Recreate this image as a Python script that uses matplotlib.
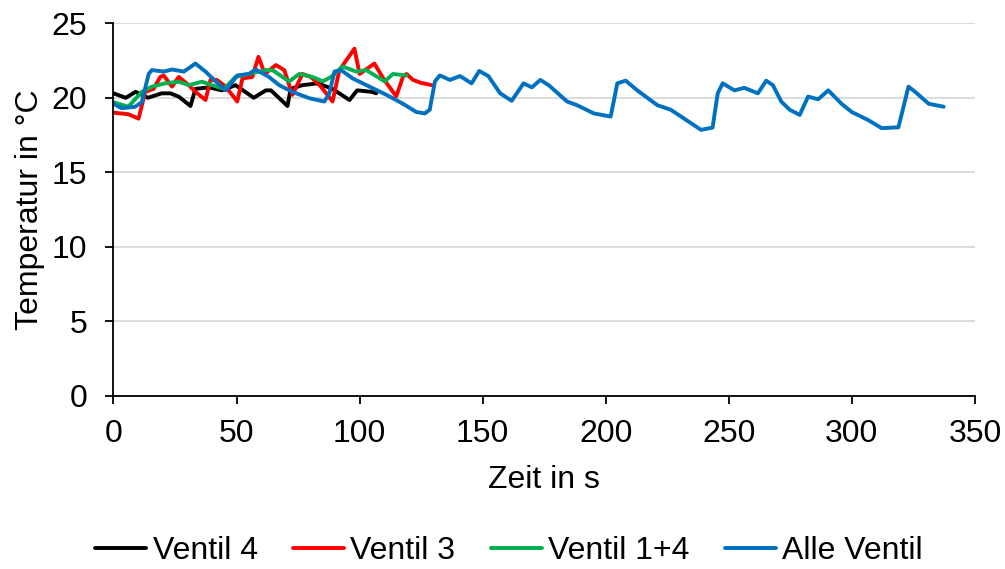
import matplotlib
matplotlib.use("Agg")
import matplotlib.pyplot as plt

plt.rcParams["font.family"] = ["Liberation Sans", "DejaVu Sans"]

# Temperature traces (time in s, temperature in °C)
t_v4 = [0, 5, 9, 14, 19.6, 23.1, 26.5, 31.3, 33.3, 38.8, 44, 49.6, 57, 61.9,
        64, 70.7, 72, 76.8, 83, 89, 95.9, 99, 105, 106.8]
T_v4 = [20.3, 20.0, 20.4, 20.0, 20.3, 20.3, 20.08, 19.45, 20.6, 20.7, 20.5, 20.85,
        20.0, 20.5, 20.5, 19.45, 20.6, 20.85, 20.97, 20.6, 19.85, 20.5, 20.4, 20.3]

t_v3 = [0, 6, 10.2, 12.9, 16.3, 19, 20.4, 23.8, 26.5, 30.6, 33.3, 37.4, 39.4, 42,
        45.6, 50.3, 52.4, 56.4, 58.9, 61.5, 66, 69.4, 72.7, 76.8, 80.2, 84.3, 89,
        91.8, 97.9, 100, 106, 110, 114.9, 117.6, 119, 121.7, 125, 129.3]
T_v3 = [19.0, 18.9, 18.6, 20.4, 20.6, 21.4, 21.5, 20.75, 21.4, 20.85, 20.4, 19.85,
        21.2, 21.2, 20.75, 19.75, 21.3, 21.4, 22.75, 21.6, 22.2, 21.86, 20.2, 21.6,
        21.4, 20.75, 19.75, 21.86, 23.3, 21.6, 22.3, 21.2, 20.1, 21.4, 21.6, 21.2,
        21.0, 20.85]

t_v14 = [0, 6, 11.5, 15.6, 21, 26.5, 30.6, 36, 40, 44.9, 49.6, 55, 61.9, 64.6,
         68.7, 71.4, 75.5, 80.9, 85, 88.4, 93.1, 98.6, 102.7, 110.2, 113.5, 119]
T_v14 = [19.7, 19.4, 20.4, 20.75, 20.97, 21.08, 20.85, 21.08, 20.85, 20.6, 21.4,
         21.6, 21.86, 21.86, 21.4, 21.1, 21.6, 21.4, 21.1, 21.4, 22.1, 21.76, 21.86,
         21.1, 21.6, 21.5]

t_all = [0, 3.3, 8.8, 11.5, 14.3, 15.6, 20.4, 23.8, 28.6, 33.3, 37.4, 41.5, 45.6,
         50.3, 55, 57.8, 63.2, 67.3, 72.7, 79.6, 85.7, 87.7, 89.8, 92.5, 97.2, 104,
         110.9, 117.6, 123, 126.5, 128.5, 130.6, 132.6, 136.7, 140.8, 145.5, 148.6,
         152.3, 157.1, 161.8, 166.6, 170, 173.4, 176.8, 184.3, 188.4, 195.2, 202,
         204.7, 208.1, 212.8, 221, 226.4, 234.6, 238.7, 243.4, 245.5, 247.5, 252.3,
         256.3, 261.8, 265.2, 267.9, 271.3, 274.7, 278.8, 282.2, 286.3, 290.4,
         295.8, 299.9, 306.7, 312.1, 318.9, 323, 325.7, 331.2, 337.3]
T_all = [19.6, 19.3, 19.4, 19.7, 21.6, 21.86, 21.76, 21.9, 21.76, 22.3, 21.76, 21.1,
         20.5, 21.5, 21.6, 21.9, 21.4, 20.85, 20.4, 19.97, 19.75, 20.3, 21.76, 21.86,
         21.3, 20.75, 20.2, 19.6, 19.05, 18.95, 19.2, 21.1, 21.5, 21.2, 21.46, 20.97,
         21.8, 21.46, 20.3, 19.8, 20.97, 20.7, 21.2, 20.85, 19.75, 19.5, 18.95, 18.74,
         20.97, 21.15, 20.5, 19.5, 19.2, 18.3, 17.85, 18.0, 20.3, 20.97, 20.5, 20.67,
         20.3, 21.15, 20.85, 19.75, 19.2, 18.85, 20.08, 19.9, 20.5, 19.6, 19.05, 18.5,
         17.96, 18.02, 20.75, 20.4, 19.6, 19.4]

labels = ["Ventil 4", "Ventil 3", "Ventil 1+4", "Alle Ventil"]
colors = ["#000000", "#FF0000", "#00B050", "#0070C0"]
x_ticks = [0, 50, 100, 150, 200, 250, 300, 350]
y_ticks = [0, 5, 10, 15, 20, 25]

FS = 23

fig = plt.figure(figsize=(10.05, 5.69), dpi=100)
ax = fig.add_axes([0.1129, 0.3046, 0.9701 - 0.1129, 0.959 - 0.3046])

series = [(t_v4, T_v4), (t_v3, T_v3), (t_v14, T_v14), (t_all, T_all)]
for (t, T), lab, col in zip(series, labels, colors):
    ax.plot(t, T, color=col, lw=2.8, label=lab,
            solid_joinstyle="round", solid_capstyle="round")

ax.set_xlim(0, 350)
ax.set_ylim(0, 25)
ax.set_xticks(x_ticks)
ax.set_yticks(y_ticks)
ax.yaxis.grid(True, color="#D9D9D9", lw=1.3)
ax.set_axisbelow(True)
for s in ("top", "right"):
    ax.spines[s].set_visible(False)
for s in ("left", "bottom"):
    ax.spines[s].set_linewidth(1.3)
ax.tick_params(axis="both", direction="out", length=6, width=1.3,
               labelsize=FS)
ax.tick_params(axis="y", pad=13)
ax.tick_params(axis="x", pad=11)

ax.set_xlabel("Zeit in s", fontsize=FS, labelpad=11)
ax.set_ylabel("Temperatur in °C", fontsize=FS, labelpad=5)

fig.legend(loc="center", bbox_to_anchor=(509 / 1005, 0.031), ncol=4,
           frameon=False, fontsize=FS, handlelength=1.6, handletextpad=0.2,
           columnspacing=1.1)

fig.savefig("out.png", dpi=100)
